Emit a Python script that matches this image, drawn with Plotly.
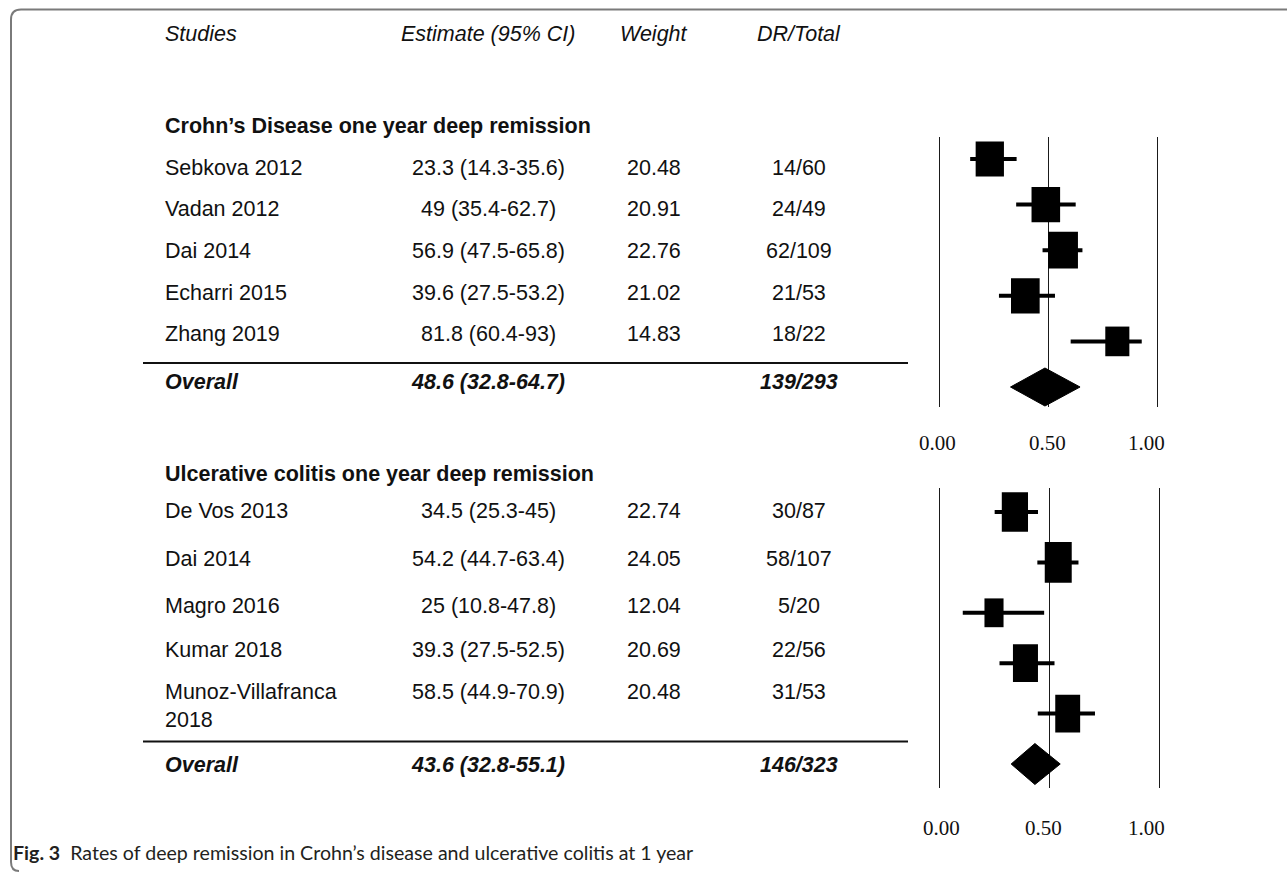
import plotly.graph_objects as go

# ---------------------------------------------------------------- data
cd_studies = ["Sebkova 2012", "Vadan 2012", "Dai 2014", "Echarri 2015", "Zhang 2019"]
cd_est = [23.3, 49, 56.9, 39.6, 81.8]
cd_lo = [14.3, 35.4, 47.5, 27.5, 60.4]
cd_hi = [35.6, 62.7, 65.8, 53.2, 93]
cd_weight = [20.48, 20.91, 22.76, 21.02, 14.83]
cd_events = [14, 24, 62, 21, 18]
cd_total = [60, 49, 109, 53, 22]
cd_overall = [48.6, 32.8, 64.7]

uc_studies = ["De Vos 2013", "Dai 2014", "Magro 2016", "Kumar 2018", "Munoz-Villafranca<br>2018"]
uc_est = [34.5, 54.2, 25, 39.3, 58.5]
uc_lo = [25.3, 44.7, 10.8, 27.5, 44.9]
uc_hi = [45, 63.4, 47.8, 52.5, 70.9]
uc_weight = [22.74, 24.05, 12.04, 20.69, 20.48]
uc_events = [30, 58, 5, 22, 31]
uc_total = [87, 107, 20, 56, 53]
uc_overall = [43.6, 32.8, 55.1]

headers = ["Studies", "Estimate (95% CI)", "Weight", "DR/Total"]
axis_ticks = [0, 0.5, 1]
axis_ticktext = ["0.00", "0.50", "1.00"]

# ---------------------------------------------------------------- layout
W, H = 1287, 872
SANS = "Liberation Sans, Arial, sans-serif"
SERIF = "Liberation Serif, Times New Roman, serif"
FS = 21.5
INK = "#111111"

COL_NAME, COL_EST, COL_WT, COL_DR = 163, 488, 653.5, 799
HEADER_Y = 34
RULE_X = (143, 908)
PANEL_X = (900, 1200)

panels = [
    dict(title="Crohn\u2019s Disease one year deep remission",
         studies=cd_studies, est=cd_est, lo=cd_lo, hi=cd_hi, weight=cd_weight,
         events=cd_events, total=cd_total, overall=cd_overall,
         title_y=126, text_rows=[168, 209.5, 251, 292.5, 334], overall_y=382, rule_y=363,
         zero_px=939, one_px=1157, top_px=137, bottom_px=407,
         row0_px=159, row_step=45.6, box_w=6.25, box_h=7.7, diamond_h=19,
         tick_y=443, tick_shift=[-1.5, -1, -11]),
    dict(title="Ulcerative colitis one year deep remission",
         studies=uc_studies, est=uc_est, lo=uc_lo, hi=uc_hi, weight=uc_weight,
         events=uc_events, total=uc_total, overall=uc_overall,
         title_y=474, text_rows=[511, 558.5, 606, 649.5, 692], overall_y=765, rule_y=741.5,
         zero_px=939, one_px=1159, top_px=488, bottom_px=788,
         row0_px=512, row_step=50.4, box_w=5.5, box_h=8.3, diamond_h=20.5,
         tick_y=828, tick_shift=[2, -6, -13]),
]


def fx(px):
    return px / W


def fy(py):
    return 1 - py / H


def ci_label(e, lo, hi):
    return f"{e:g} ({lo:g}-{hi:g})"


fig = go.Figure()
annotations = []
shapes = []


def text(x, y, s, anchor="center", size=FS, family=SANS, color=INK):
    annotations.append(dict(x=fx(x), y=fy(y), xref="paper", yref="paper", text=s,
                            showarrow=False, xanchor=anchor, yanchor="middle", align=anchor,
                            font=dict(family=family, size=size, color=color)))


# column headers
text(COL_NAME, HEADER_Y, f"<i>{headers[0]}</i>", anchor="left")
for cx, h in zip([COL_EST, COL_WT, COL_DR], headers[1:]):
    text(cx, HEADER_Y, f"<i>{h}</i>")

for k, p in enumerate(panels, start=1):
    xa = "x" if k == 1 else f"x{k}"
    ya = "y" if k == 1 else f"y{k}"
    n = len(p["studies"])
    ppu = p["one_px"] - p["zero_px"]          # pixels per unit on x
    step = p["row_step"]                       # pixels per row on y

    # ---- table
    text(COL_NAME, p["title_y"], f"<b>{p['title']}</b>", anchor="left")
    for i in range(n):
        ty = p["text_rows"][i]
        name = p["studies"][i]
        # wrapped names hang down from the row's first line
        text(COL_NAME, ty + 14 * name.count("<br>"), name, anchor="left")
        text(COL_EST, ty, ci_label(p["est"][i], p["lo"][i], p["hi"][i]))
        text(COL_WT, ty, f"{p['weight'][i]:.2f}")
        text(COL_DR, ty, f"{p['events'][i]}/{p['total'][i]}")
    oe, olo, ohi = p["overall"]
    text(COL_NAME, p["overall_y"], "<b><i>Overall</i></b>", anchor="left")
    text(COL_EST, p["overall_y"], f"<b><i>{ci_label(oe, olo, ohi)}</i></b>")
    text(COL_DR, p["overall_y"], f"<b><i>{sum(p['events'])}/{sum(p['total'])}</i></b>")
    shapes.append(dict(type="line", xref="paper", yref="paper",
                       x0=fx(RULE_X[0]), x1=fx(RULE_X[1]), y0=fy(p["rule_y"]), y1=fy(p["rule_y"]),
                       line=dict(color=INK, width=2)))

    # ---- forest panel axes
    xr = [(PANEL_X[0] - p["zero_px"]) / ppu, (PANEL_X[1] - p["zero_px"]) / ppu]
    yr = [(p["bottom_px"] - p["row0_px"]) / step, (p["top_px"] - p["row0_px"]) / step]
    fig.layout[f"xaxis{'' if k == 1 else k}"] = dict(
        domain=[fx(PANEL_X[0]), fx(PANEL_X[1])], range=xr, anchor=ya,
        tickmode="array", tickvals=axis_ticks, showticklabels=False, ticks="",
        showgrid=True, gridcolor="#1a1a1a", gridwidth=1.4, zeroline=False, showline=False,
        fixedrange=True)
    fig.layout[f"yaxis{'' if k == 1 else k}"] = dict(
        domain=[fy(p["bottom_px"]), fy(p["top_px"])], range=yr, anchor=xa,
        visible=False, showgrid=False, zeroline=False, fixedrange=True)

    # confidence intervals
    cx, cy = [], []
    for i in range(n):
        cx += [p["lo"][i] / 100, p["hi"][i] / 100, None]
        cy += [i, i, None]
    fig.add_trace(go.Scatter(x=cx, y=cy, mode="lines", line=dict(color="black", width=4),
                             xaxis=xa, yaxis=ya, hoverinfo="skip", showlegend=False))

    # weighted boxes
    for i in range(n):
        sw = p["weight"][i] ** 0.5
        hw = p["box_w"] * sw / 2 / ppu
        hh = p["box_h"] * sw / 2 / step
        e = p["est"][i] / 100
        shapes.append(dict(type="rect", xref=xa, yref=ya, x0=e - hw, x1=e + hw,
                           y0=i - hh, y1=i + hh, fillcolor="black",
                           line=dict(color="black", width=0), layer="above"))

    # pooled diamond
    dh = p["diamond_h"] / step
    fig.add_trace(go.Scatter(x=[olo / 100, oe / 100, ohi / 100, oe / 100, olo / 100],
                             y=[n, n - dh, n, n + dh, n], mode="lines", fill="toself",
                             fillcolor="black", line=dict(color="black", width=1),
                             xaxis=xa, yaxis=ya, hoverinfo="skip", showlegend=False))

    # axis tick labels
    for tv, tt, sh in zip(axis_ticks, axis_ticktext, p["tick_shift"]):
        annotations.append(dict(x=tv, y=fy(p["tick_y"]), xref=xa, yref="paper", text=tt,
                                showarrow=False, xanchor="center", yanchor="middle", xshift=sh,
                                font=dict(family=SERIF, size=21, color=INK)))

# caption
annotations.append(dict(
    x=fx(11), y=fy(852), xref="paper", yref="paper", xanchor="left", yanchor="middle",
    align="left", showarrow=False,
    text="<b>Fig. 3</b>  Rates of deep remission in Crohn\u2019s disease and ulcerative colitis at 1 year",
    font=dict(family="Lato, Noto Sans, sans-serif", size=19.6, color="#231f20")))

# rounded frame (top and left edges)
pts = f"M {fx(1290)} {fy(9.5)} L {fx(21)} {fy(9.5)} Q {fx(11)} {fy(9.5)} {fx(11)} {fy(19.5)} " \
      f"L {fx(11)} {fy(862)} Q {fx(11)} {fy(871)} {fx(19)} {fy(871)}"
shapes.append(dict(type="path", xref="paper", yref="paper", path=pts,
                   line=dict(color="#7a7a7a", width=2)))

fig.update_layout(width=W, height=H, margin=dict(l=0, r=0, t=0, b=0),
                  paper_bgcolor="white", plot_bgcolor="white",
                  annotations=annotations, shapes=shapes, showlegend=False)

fig.write_html("out.html", config={"displayModeBar": False})
